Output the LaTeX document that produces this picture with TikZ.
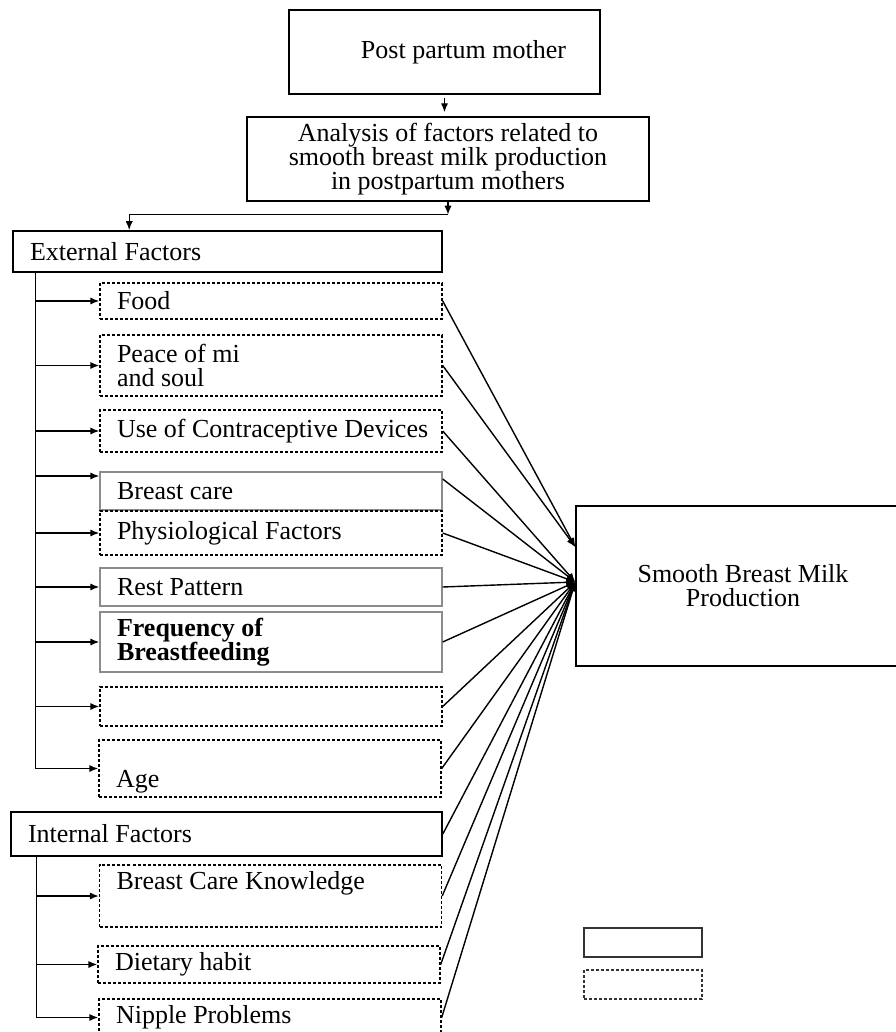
\documentclass[tikz,border=0pt]{standalone}
\usepackage{fontspec}
\setmainfont{Liberation Serif}
\usepackage{tikz}
\usetikzlibrary{arrows.meta, positioning, calc}
\definecolor{boxgray}{HTML}{8C8C8C}
\definecolor{legenddark}{HTML}{333333}

\begin{document}
\begin{tikzpicture}[
  x=0.5pt, y=-0.5pt,
  every node/.style={font=\fontsize{13}{12}\selectfont},
  mainbox/.style={draw, line width=0.7pt, inner sep=0pt, align=center},
  groupbox/.style={draw, line width=0.8pt, inner xsep=8.5pt, inner ysep=0pt, align=left,
                   execute at begin node={\spaceskip=0pt\xspaceskip=0pt}},
  factor/.style={draw, line width=0.7pt, dash pattern=on 1.5pt off 1pt, text width=154pt,
                 minimum width=171pt, inner xsep=8.5pt, inner ysep=0pt, align=left,
                 execute at begin node={\spaceskip=0pt\xspaceskip=0pt}},
  solidfactor/.style={factor, solid, draw=boxgray},
  arr/.style={-{Latex[length=4.5pt, width=3.6pt]}, line width=0.7pt},
]
  \useasboundingbox (0,0) rectangle (895,1032);

  \node[mainbox, minimum width=155.5pt, minimum height=42pt] (mother) at (444.5, 52) {\hspace*{19pt}Post partum mother};
  \node[mainbox, minimum width=201pt, minimum height=42pt] (analysis) at (448, 159)
    {Analysis of factors related to\\smooth breast milk production\\in postpartum mothers};

  \node[groupbox, text width=197.5pt, minimum height=20.5pt] (ext) at (227.5, 251.5) {External Factors};
  \node[factor, minimum height=18pt] (food) at (271, 301) {Food};
  \node[factor, minimum height=30.5pt] (peace) at (271, 365.5) {Peace of mi\\and soul};
  \node[factor, minimum height=21pt] (contra) at (271, 431) {\mbox{Use of Contraceptive Devices}};
  \node[solidfactor, minimum height=19pt] (care) at (271, 491) {Breast care};
  \node[factor, minimum height=22pt] (physio) at (271, 533) {Physiological Factors};
  \node[solidfactor, minimum height=19pt] (rest) at (271, 587) {Rest Pattern};
  \node[solidfactor, minimum height=30pt] (freq) at (271, 642) {\bfseries Frequency of\\\bfseries Breastfeeding};
  \node[factor, minimum height=19.5pt] (blank) at (271, 706.5) {};
  \node[factor, minimum height=28.5pt] (age) at (270, 768.5) {\strut\\Age};

  \node[groupbox, text width=198.5pt, minimum height=22pt] (int) at (226.5, 834) {Internal Factors};
  \node[factor, minimum height=31pt] (know) at (270.5, 896) {Breast Care Knowledge\\\strut};
  \node[factor, minimum height=18.5pt] (diet) at (269, 964.5) {Dietary habit};
  \node[factor, minimum height=18.5pt] (nipple) at (270, 1017.5) {Nipple Problems};

  \node[mainbox, minimum width=167pt, minimum height=80pt] (smooth) at (743, 586) {Smooth Breast Milk\\Production};

  \node[draw=legenddark, line width=1pt, minimum width=59pt, minimum height=14.5pt, inner sep=0pt] (legsolid) at (643, 942.5) {};
  \node[draw=legenddark, line width=0.7pt, dash pattern=on 1.5pt off 1pt, minimum width=59pt, minimum height=14.5pt, inner sep=0pt] (legdash) at (643, 984.5) {};

  \coordinate (split) at ([yshift=-6.5pt]analysis.south);
  \coordinate (exttrunk) at ([xshift=11.5pt]ext.south west);
  \coordinate (inttrunk) at ([xshift=13pt]int.south west);
  \coordinate (hub) at ([yshift=2pt]smooth.west);
  \coordinate (hubup) at ([yshift=19.5pt]smooth.west);

  \draw[arr, shorten <=1.5pt, shorten >=2pt] (mother.south) -- (mother.south |- analysis.north);
  \draw[arr] (analysis.south) -- (split);
  \draw[arr] (split) -| ([xshift=58.5pt]ext.north west);

  \draw[arr] (exttrunk) |- (age.west);
  \foreach \b in {food, peace, contra, physio, rest, freq, blank}
    \draw[arr] (\b.west -| exttrunk) -- (\b.west);
  \draw[arr] ([yshift=7.5pt]care.west -| exttrunk) -- ([yshift=7.5pt]care.west);

  \draw[arr] (inttrunk) |- (nipple.west);
  \foreach \b in {know, diet}
    \draw[arr] (\b.west -| inttrunk) -- (\b.west);

  \foreach \b in {food, peace}
    \draw[arr] (\b.east) -- (hubup);
  \draw[arr] ([yshift=6pt]care.east) -- (hub);
  \foreach \b in {contra, physio, rest, freq, blank, age, int, know, diet, nipple}
    \draw[arr] (\b.east) -- (hub);
\end{tikzpicture}
\end{document}
